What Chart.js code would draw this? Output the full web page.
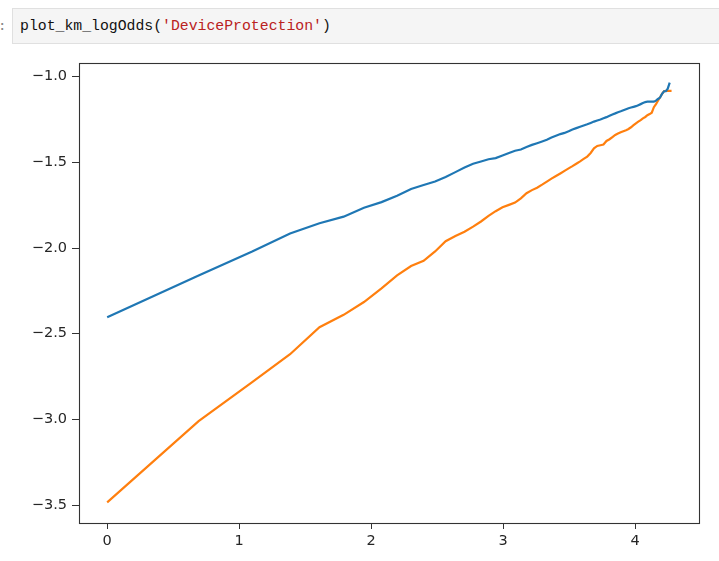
<!DOCTYPE html>
<html>
<head>
<meta charset="utf-8">
<script src="https://cdn.jsdelivr.net/npm/chart.js@4/dist/chart.umd.min.js"></script>
<style>
  html, body { margin: 0; padding: 0; background: #fff; }
  body { width: 719px; height: 561px; position: relative; overflow: hidden; }
  #prompt { position: absolute; left: -2px; top: 17px; font: 14px "DejaVu Sans Mono", monospace; color: #888; }
  #cell { position: absolute; left: 12px; top: 8px; width: 720px; height: 36px; background: #f5f5f5; border: 1px solid #e0e0e0; box-sizing: border-box; }
  #code { position: absolute; left: 20px; top: 17px; font-family: "Liberation Mono", "DejaVu Sans Mono", monospace; font-size: 14.8px; line-height: 18px; color: #111; white-space: pre; }
  #code .s { color: #ba2121; }
  #wrap { position: absolute; left: 0; top: 0; width: 719px; height: 561px; }
</style>
</head>
<body>
<div id="cell"></div>
<div id="prompt">:</div>
<div id="code">plot_km_logOdds(<span class="s">'DeviceProtection'</span>)</div>
<div id="wrap"><canvas id="c" width="719" height="561"></canvas></div>
<script>
// log(tenure) positions, tenure = 1..72
const logTenure = [0, 0.693, 1.099, 1.386, 1.609, 1.792, 1.946, 2.079, 2.197, 2.303,
  2.398, 2.485, 2.565, 2.639, 2.708, 2.773, 2.833, 2.890, 2.944, 2.996,
  3.045, 3.091, 3.135, 3.178, 3.219, 3.258, 3.296, 3.332, 3.367, 3.401,
  3.434, 3.466, 3.497, 3.526, 3.555, 3.584, 3.611, 3.638, 3.664, 3.689,
  3.714, 3.738, 3.761, 3.784, 3.807, 3.829, 3.850, 3.871, 3.892, 3.912,
  3.932, 3.951, 3.970, 3.989, 4.007, 4.025, 4.043, 4.060, 4.078, 4.094,
  4.111, 4.127, 4.143, 4.159, 4.174, 4.190, 4.205, 4.220, 4.234, 4.248,
  4.263, 4.277];

// log-odds series (blue)
const logOddsBlue = [-2.404, -2.160, -2.020, -1.915, -1.855, -1.817, -1.765, -1.732, -1.695, -1.655,
  -1.632, -1.612, -1.585, -1.557, -1.530, -1.508, -1.495, -1.482, -1.475, -1.460,
  -1.445, -1.432, -1.425, -1.410, -1.398, -1.388, -1.378, -1.368, -1.355, -1.345,
  -1.335, -1.328, -1.318, -1.308, -1.300, -1.292, -1.285, -1.278, -1.270, -1.262,
  -1.256, -1.250, -1.243, -1.236, -1.228, -1.220, -1.214, -1.207, -1.202, -1.196,
  -1.190, -1.184, -1.180, -1.176, -1.172, -1.166, -1.160, -1.154, -1.148, -1.146,
  -1.146, -1.146, -1.146, -1.140, -1.130, -1.122, -1.100, -1.085, -1.085, -1.070,
  -1.035];

// log-odds series (orange)
const logOddsOrange = [-3.485, -3.010, -2.783, -2.620, -2.462, -2.390, -2.315, -2.235, -2.160, -2.105,
  -2.075, -2.020, -1.960, -1.930, -1.905, -1.875, -1.845, -1.812, -1.785, -1.762,
  -1.748, -1.735, -1.710, -1.680, -1.662, -1.648, -1.630, -1.612, -1.595, -1.580,
  -1.565, -1.550, -1.535, -1.522, -1.508, -1.494, -1.480, -1.466, -1.445, -1.418,
  -1.404, -1.400, -1.396, -1.375, -1.365, -1.352, -1.340, -1.332, -1.324, -1.318,
  -1.312, -1.305, -1.295, -1.283, -1.272, -1.262, -1.253, -1.243, -1.235, -1.225,
  -1.218, -1.210, -1.178, -1.160, -1.140, -1.120, -1.100, -1.085, -1.083, -1.083,
  -1.083, -1.083];

const xTicks = [0, 1, 2, 3, 4];
const yTicks = [-3.5, -3.0, -2.5, -2.0, -1.5, -1.0];

function pairs(xs, ys) { return ys.map((y, i) => ({ x: xs[i], y: y })); }

const framePlugin = {
  id: 'frame',
  afterDraw(chart) {
    const a = chart.chartArea, ctx = chart.ctx;
    ctx.save();
    ctx.strokeStyle = '#333';
    ctx.lineWidth = 1.1;
    ctx.strokeRect(Math.round(a.left) + 0.5, Math.round(a.top) + 0.5,
      Math.round(a.right - a.left), Math.round(a.bottom - a.top));
    ctx.restore();
  }
};

const tickFont = { family: 'DejaVu Sans', size: 14.5 };

new Chart(document.getElementById('c'), {
  type: 'line',
  data: {
    datasets: [
      { label: 'No', data: pairs(logTenure, logOddsBlue), borderColor: '#1f77b4',
        borderWidth: 2.2, pointRadius: 0, tension: 0, fill: false },
      { label: 'Yes', data: pairs(logTenure, logOddsOrange), borderColor: '#ff7f0e',
        borderWidth: 2.2, pointRadius: 0, tension: 0, fill: false }
    ]
  },
  options: {
    responsive: false,
    animation: false,
    layout: { padding: { top: 63, right: 20, left: 0, bottom: 0 } },
    plugins: { legend: { display: false }, tooltip: { enabled: false } },
    scales: {
      x: {
        type: 'linear', min: -0.2135, max: 4.485,
        afterBuildTicks(s) { s.ticks = xTicks.map(v => ({ value: v })); },
        afterFit(s) { s.height = 38; },
        grid: { drawOnChartArea: false, drawTicks: true, tickLength: 6, color: '#333', tickWidth: 1 },
        border: { display: false },
        ticks: { font: tickFont, color: '#262626', padding: 4, maxRotation: 0,
          callback: v => String(v) }
      },
      y: {
        type: 'linear', min: -3.605, max: -0.92,
        afterBuildTicks(s) { s.ticks = yTicks.map(v => ({ value: v })); },
        afterFit(s) { s.width = 79; },
        grid: { drawOnChartArea: false, drawTicks: true, tickLength: 7, color: '#333', tickWidth: 1 },
        border: { display: false },
        ticks: { font: tickFont, color: '#262626', padding: 5,
          callback: v => v.toFixed(1).replace('-', '\u2212') }
      }
    }
  },
  plugins: [framePlugin]
});
</script>
</body>
</html>
